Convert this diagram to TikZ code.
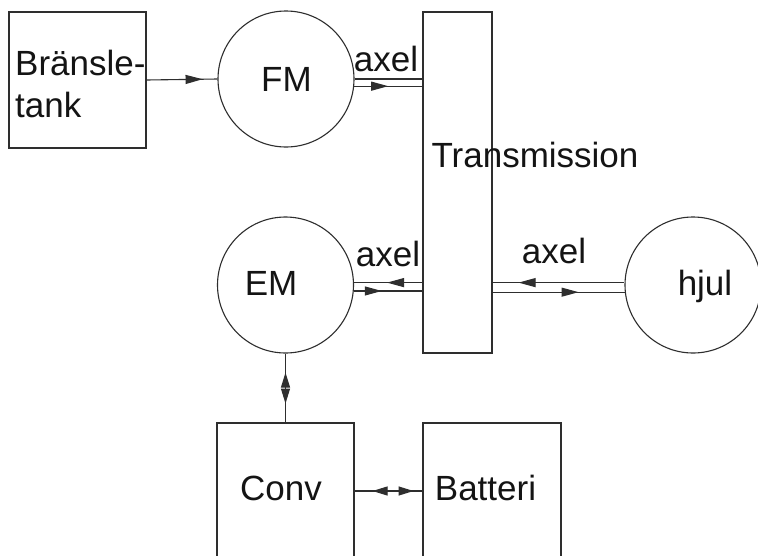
\documentclass[tikz,border=0pt]{standalone}
\usepackage{fontspec}
\setmainfont{Liberation Sans}
\usetikzlibrary{arrows.meta,decorations.markings}
\definecolor{ink}{HTML}{2E2E2E}
\definecolor{txt}{HTML}{141414}
\begin{document}
\begin{tikzpicture}[x=1pt,y=-1pt,
  box/.style={draw=ink, line width=1.1pt, rectangle, minimum width=137pt, minimum height=136pt, inner sep=0pt},
  wheel/.style={draw=ink, line width=1.1pt, circle, minimum size=136pt, inner sep=0pt},
  lbl/.style={text=txt, font=\fontsize{35}{42}\selectfont, inner sep=0pt, anchor=base},
  conn/.style={draw=ink, line width=1.1pt},
  fwd/.style={postaction={decorate, decoration={markings, mark=at position #1 with {\arrow{Triangle[length=17pt,width=9pt]}}}}},
  bwd/.style={postaction={decorate, decoration={markings, mark=at position #1 with {\arrowreversed{Triangle[length=17pt,width=9pt]}}}}},
  both/.style 2 args={postaction={decorate, decoration={markings,
     mark=at position #1 with {\arrowreversed{Triangle[length=15pt,width=9pt]}},
     mark=at position #2 with {\arrow{Triangle[length=15pt,width=9pt]}}}}}
]
\clip (0,0) rectangle (758,555);
\fill[white] (0,0) rectangle (758,555);

% blocks
\node[box] (tank) at (77.5,80) {};
\node[wheel] (fm) at (286,79) {};
\node[wheel] (em) at (285.5,285) {};
\node[wheel] (hjul) at (693,285) {};
\node[draw=ink, line width=1.1pt, rectangle, minimum width=69pt, minimum height=341pt, inner sep=0pt] (trans) at (457.5,182.5) {};
\node[box] (conv) at (285.5,491) {};
\node[box, minimum width=138pt] (batt) at (492,491) {};

% texts
\node[lbl, anchor=south west, align=left] (tanktxt) at (15,118) {Bränsle-\\tank};
\node[lbl] (fmtxt) at (286.5,91) {FM};
\node[lbl] (emtxt) at (271,295) {EM};
\node[lbl] (hjultxt) at (705,295) {hjul};
\node[lbl] (transtxt) at (535,167) {Transmission};
\node[lbl] (convtxt) at (281,500) {Conv};
\node[lbl] (batttxt) at (485.5,500) {Batteri};
\node[lbl] (axel1) at (386,71) {axel};
\node[lbl] (axel2) at (388,266) {axel};
\node[lbl] (axel3) at (554,263) {axel};

% connectors
\draw[conn, fwd=56pt] (tank.east) -- (fm.west);

\draw[conn] (fm.east) -- (fm.east -| trans.west);
\draw[conn, fwd=34pt] (fm.-6) -- (fm.-6 -| trans.west);

\draw[conn, bwd=33pt] (em.2.5) -- (em.2.5 -| trans.west);
\draw[conn, fwd=28pt] (em.-5) -- (em.-5 -| trans.west);

\draw[conn, bwd=26pt] (trans.east |- hjul.178.3) -- (hjul.178.3);
\draw[conn, fwd=86pt] (trans.east |- hjul.186) -- (hjul.186);

\draw[conn, both={19pt}{50pt}] (em.south) -- (conv.north);
\draw[conn, both={18pt}{59pt}] (conv.east) -- (batt.west);
\end{tikzpicture}
\end{document}
